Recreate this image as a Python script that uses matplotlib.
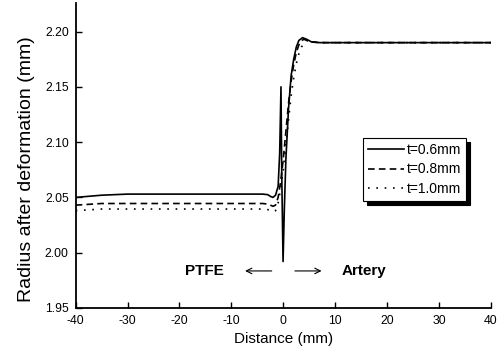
import matplotlib.pyplot as plt

plt.rcParams['font.family'] = ['Liberation Sans', 'DejaVu Sans']
plt.rcParams['axes.unicode_minus'] = False

# t = 0.6 mm
x_06 = [-40, -35, -30, -20, -10, -4, -3, -2.5, -2.0, -1.5, -1.0, -0.7, -0.45,
        -0.3, -0.05, 0.2, 0.5, 1.0, 1.5, 2.0, 2.5, 3.0, 3.7, 4.5, 5.5, 7, 20, 40]
y_06 = [2.050, 2.052, 2.053, 2.053, 2.053, 2.053, 2.0525, 2.051, 2.050, 2.052,
        2.060, 2.090, 2.150, 2.070, 1.992, 2.040, 2.085, 2.130, 2.160, 2.175,
        2.186, 2.192, 2.1945, 2.193, 2.1905, 2.190, 2.190, 2.190]

# t = 0.8 mm
x_08 = [-40, -35, -30, -20, -10, -4, -3, -2.0, -1.5, -1.0, -0.5, 0, 0.5, 1.0,
        1.5, 2.0, 2.5, 3.0, 3.5, 4.0, 5, 7, 20, 40]
y_08 = [2.043, 2.0445, 2.0445, 2.0445, 2.0445, 2.0445, 2.044, 2.042, 2.043,
        2.050, 2.065, 2.085, 2.110, 2.135, 2.155, 2.170, 2.181, 2.188, 2.192,
        2.193, 2.191, 2.190, 2.190, 2.190]

# t = 1.0 mm
x_10 = [-40, -35, -30, -20, -10, -4, -3, -2.0, -1.5, -1.0, -0.5, 0, 0.5, 1.0,
        1.5, 2.0, 2.5, 3.0, 3.5, 4.0, 4.5, 5.5, 7, 20, 40]
y_10 = [2.038, 2.0395, 2.0395, 2.0395, 2.0395, 2.0395, 2.039, 2.037, 2.038,
        2.045, 2.058, 2.075, 2.098, 2.120, 2.142, 2.158, 2.171, 2.180, 2.186,
        2.190, 2.192, 2.191, 2.190, 2.190, 2.190]

labels = ['t=0.6mm', 't=0.8mm', 't=1.0mm']

fig = plt.figure(figsize=(5.01, 3.54), dpi=100)
ax = fig.add_axes([0.151, 0.130, 0.829, 0.862])

ax.plot(x_06, y_06, color='black', lw=1.2, label=labels[0])
ax.plot(x_08, y_08, color='black', lw=1.2, ls=(0, (4, 2.5)), label=labels[1])
ax.plot(x_10, y_10, color='black', lw=1.2, ls=(0, (1, 4)), label=labels[2])

ax.set_xlim(-40, 40)
ax.set_ylim(1.95, 2.226)
ax.set_xticks(range(-40, 41, 10))
ax.set_yticks([1.95, 2.00, 2.05, 2.10, 2.15, 2.20])
ax.set_yticklabels(['1.95', '2.00', '2.05', '2.10', '2.15', '2.20'])
ax.tick_params(direction='in', length=4, width=1, labelsize=8.8, colors='black')
ax.tick_params(axis='y', pad=5)
ax.tick_params(axis='x', pad=5)
ax.spines['top'].set_visible(False)
ax.spines['right'].set_visible(False)
ax.spines['left'].set_linewidth(1.3)
ax.spines['bottom'].set_linewidth(1.3)

ax.set_xlabel('Distance (mm)', fontsize=11, labelpad=4)
ax.set_ylabel('Radius after deformation (mm)', fontsize=14)
ax.yaxis.set_label_coords(-0.098, 0.455)

leg = ax.legend(loc='upper left', bbox_to_anchor=(0.692, 0.557), fontsize=10,
                frameon=True, fancybox=False,
                shadow={'ox': 3, 'oy': -3, 'facecolor': 'black',
                        'edgecolor': 'black', 'alpha': 1},
                handlelength=2.6, handletextpad=0.2, borderpad=0.35,
                labelspacing=0.4, borderaxespad=0, framealpha=1)
leg.get_frame().set_edgecolor('black')
leg.get_frame().set_linewidth(0.8)

# annotations
ax.text(-15.2, 1.9835, 'PTFE', ha='center', va='center', fontsize=11,
        fontweight='bold')
ax.text(11.2, 1.9835, 'Artery', ha='left', va='center', fontsize=11,
        fontweight='bold')
ax.annotate('', xy=(-7.9, 1.9835), xytext=(-1.7, 1.9835),
            arrowprops=dict(arrowstyle='->', color='black', lw=0.8))
ax.annotate('', xy=(7.9, 1.9835), xytext=(1.7, 1.9835),
            arrowprops=dict(arrowstyle='->', color='black', lw=0.8))

fig.savefig('out.png', dpi=100)
